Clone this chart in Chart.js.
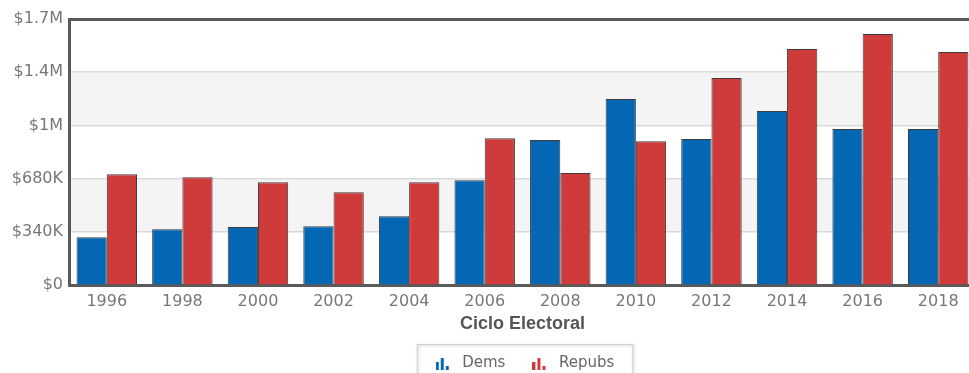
<!DOCTYPE html>
<html>
<head>
<meta charset="utf-8">
<script src="https://cdn.jsdelivr.net/npm/chart.js@4.4.1/dist/chart.umd.min.js"></script>
<style>
  html, body { margin: 0; padding: 0; background: #fff; overflow: hidden; }
  #wrap { position: relative; width: 980px; height: 373px; overflow: hidden; }
  #wrap > div { position: absolute; left: 0; top: 0; width: 980px; height: 381px; }
</style>
</head>
<body>
<div id="wrap"><div><canvas id="chart"></canvas></div></div>
<script>
// ── Data ──────────────────────────────────────────────────────────────────────
const CYCLES = ['1996', '1998', '2000', '2002', '2004', '2006', '2008', '2010', '2012', '2014', '2016', '2018'];
const DEMS   = [307000, 358000, 371000, 377000, 441000, 671000, 927000, 1189000, 933000, 1112000, 997000, 997000];
const REPUBS = [709000, 690000, 658000, 594000, 658000, 939000, 716000, 920000, 1323000, 1508000, 1604000, 1489000];
const Y_TICKS = [0, 340000, 680000, 1020000, 1360000, 1700000];

const COLORS = { dems: '#0467b3', repubs: '#cf3b3b', outline: '#3c3c3c', axis: '#5a5a5a', band: '#f4f4f4' };

function money(v) {
  if (v === 0) return '$0';
  if (v >= 1e6) return '$' + parseFloat((v / 1e6).toFixed(1)) + 'M';
  return '$' + Math.round(v / 1000) + 'K';
}

// little bar-chart icon used in the legend
function barIcon(color) {
  const c = document.createElement('canvas');
  c.width = 14; c.height = 13;
  const g = c.getContext('2d');
  g.fillStyle = color;
  g.fillRect(0, 5, 3, 8);
  g.fillRect(5, 1, 3, 12);
  g.fillRect(10, 9, 3, 4);
  return c;
}
const ICONS = [barIcon(COLORS.dems), barIcon(COLORS.repubs)];

// ── Plugins ───────────────────────────────────────────────────────────────────
const bands = {
  id: 'bands',
  beforeDraw(chart) {
    const { ctx, chartArea: a, scales: { y } } = chart;
    ctx.save();
    ctx.fillStyle = COLORS.band;
    for (let i = 1; i < Y_TICKS.length - 1; i += 2) {
      const top = y.getPixelForValue(Y_TICKS[i + 1]);
      const bot = y.getPixelForValue(Y_TICKS[i]);
      ctx.fillRect(a.left, top, a.right - a.left, bot - top);
    }
    ctx.restore();
  }
};

const legendBox = {
  id: 'legendBox',
  afterDraw(chart) {
    const boxes = chart.legend.legendHitBoxes;
    if (!boxes.length) return;
    const left  = Math.min(...boxes.map(b => b.left)) - 14;
    const right = Math.max(...boxes.map(b => b.left + b.width)) + 18;
    const top   = boxes[0].top - 12;
    const { ctx } = chart;
    ctx.save();
    ctx.shadowColor = 'rgba(0,0,0,0.25)';
    ctx.shadowBlur = 3;
    ctx.shadowOffsetX = 1;
    ctx.shadowOffsetY = 1;
    ctx.strokeStyle = '#d0d0d0';
    ctx.lineWidth = 1;
    ctx.strokeRect(left + 0.5, top + 0.5, right - left, 60);
    ctx.restore();
  }
};

// ── Chart ─────────────────────────────────────────────────────────────────────
new Chart(document.getElementById('chart'), {
  type: 'bar',
  data: {
    labels: CYCLES,
    datasets: [
      { label: 'Dems',   data: DEMS,   backgroundColor: COLORS.dems,   borderColor: COLORS.outline, borderWidth: 1 },
      { label: 'Repubs', data: REPUBS, backgroundColor: COLORS.repubs, borderColor: COLORS.outline, borderWidth: 1 }
    ]
  },
  options: {
    responsive: true, maintainAspectRatio: false, animation: false,
    categoryPercentage: 0.8, barPercentage: 1.0,
    layout: { padding: { top: 19, right: 4, left: 0, bottom: 0 } },
    scales: {
      x: {
        grid: { display: false, drawTicks: false },
        border: { display: true, color: COLORS.axis, width: 3 },
        ticks: { color: '#777', font: { family: "'DejaVu Sans'", size: 16 }, padding: 7, maxRotation: 0 },
        title: {
          display: true, text: 'Ciclo Electoral', color: '#555',
          font: { family: "'Liberation Sans'", size: 18, weight: 'bold' }, padding: { top: -5, bottom: -1 }
        }
      },
      y: {
        min: 0, max: 1700000,
        afterBuildTicks: s => { s.ticks = Y_TICKS.map(v => ({ value: v })); },
        afterFit: s => { s.width = 69; },
        grid: {
          drawTicks: false,
          color: c => c.tick && c.tick.value === 1700000 ? COLORS.axis : '#d9d9d9',
          lineWidth: c => c.tick && c.tick.value === 1700000 ? 3 : 1.5
        },
        border: { display: true, color: COLORS.axis, width: 3 },
        ticks: { color: '#777', font: { family: "'DejaVu Sans'", size: 16 }, padding: 6, callback: v => money(v) }
      }
    },
    plugins: {
      tooltip: { enabled: false },
      legend: {
        position: 'bottom', fullSize: false,
        labels: {
          usePointStyle: true, pointStyleWidth: 24, color: '#666', padding: 22,
          font: { family: "'DejaVu Sans'", size: 15 },
          generateLabels(chart) {
            const items = Chart.defaults.plugins.legend.labels.generateLabels(chart);
            items.forEach((it, i) => { it.pointStyle = ICONS[i]; });
            return items;
          }
        }
      }
    }
  },
  plugins: [bands, legendBox]
});
</script>
</body>
</html>
